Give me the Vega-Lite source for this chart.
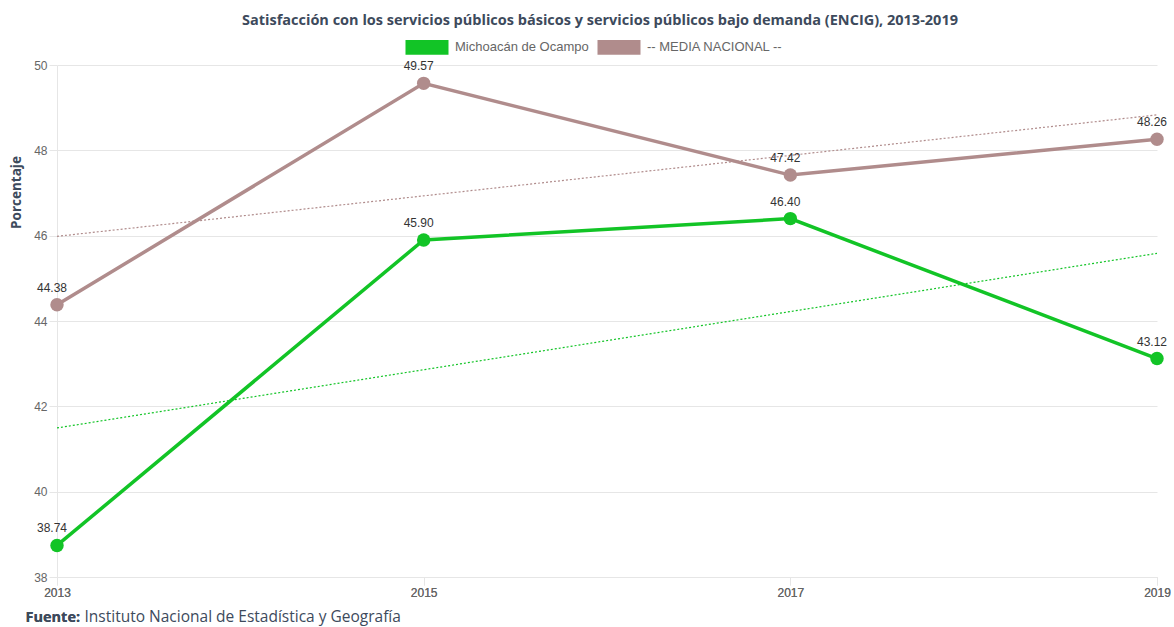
{
  "$schema": "https://vega.github.io/schema/vega-lite/v6.json",
  "width": 1100,
  "height": 512,
  "autosize": "none",
  "padding": {"left": 57, "top": 65, "right": 17, "bottom": 50},
  "background": "white",
  "title": {
    "text": "Satisfacción con los servicios públicos básicos y servicios públicos bajo demanda (ENCIG), 2013-2019",
    "font": "Open Sans",
    "fontSize": 14.5,
    "fontWeight": "bold",
    "color": "#3d4a5c",
    "anchor": "middle",
    "dx": -7,
    "offset": -3
  },
  "data": {
    "values": [
      {"anio": 2013, "serie": "Michoacán de Ocampo", "valor": 38.74},
      {"anio": 2015, "serie": "Michoacán de Ocampo", "valor": 45.90},
      {"anio": 2017, "serie": "Michoacán de Ocampo", "valor": 46.40},
      {"anio": 2019, "serie": "Michoacán de Ocampo", "valor": 43.12},
      {"anio": 2013, "serie": "-- MEDIA NACIONAL --", "valor": 44.38},
      {"anio": 2015, "serie": "-- MEDIA NACIONAL --", "valor": 49.57},
      {"anio": 2017, "serie": "-- MEDIA NACIONAL --", "valor": 47.42},
      {"anio": 2019, "serie": "-- MEDIA NACIONAL --", "valor": 48.26}
    ]
  },
  "encoding": {
    "x": {
      "field": "anio",
      "type": "quantitative",
      "scale": {"domain": [2013, 2019], "nice": false, "zero": false},
      "axis": {
        "values": [2013, 2015, 2017, 2019],
        "format": "d",
        "title": "Fuente:",
        "titleFont": "Open Sans",
        "titleFontSize": 14.5,
        "titleFontWeight": "bold",
        "titleColor": "#3d4a5c",
        "titleAnchor": "start",
        "titleAlign": "left",
        "titleBaseline": "alphabetic",
        "titleX": -32,
        "titleY": 44,
        "labelFont": "Liberation Sans",
        "labelFontSize": 12,
        "labelColor": "#666666",
        "labelPadding": 2,
        "tickColor": "#e6e6e6",
        "tickSize": 8,
        "domainColor": "#e6e6e6",
        "gridColor": "#e6e6e6",
        "labelFlush": false
      }
    },
    "y": {
      "field": "valor",
      "type": "quantitative",
      "scale": {"domain": [38, 50], "nice": false, "zero": false},
      "axis": {
        "values": [38, 40, 42, 44, 46, 48, 50],
        "title": "Porcentaje",
        "titleFont": "Open Sans",
        "titleFontSize": 13.5,
        "titleFontWeight": "bold",
        "titleColor": "#3d4a5c",
        "titleY": 127,
        "titleX": -34,
        "labelFont": "Liberation Sans",
        "labelFontSize": 12,
        "labelColor": "#666666",
        "labelPadding": 2,
        "tickColor": "#e6e6e6",
        "tickSize": 8,
        "domainColor": "#e6e6e6",
        "gridColor": "#e6e6e6"
      }
    },
    "color": {
      "field": "serie",
      "type": "nominal",
      "scale": {
        "domain": ["Michoacán de Ocampo", "-- MEDIA NACIONAL --"],
        "range": ["#12c426", "#b08c8c"]
      },
      "legend": {
        "title": null,
        "orient": "none",
        "direction": "horizontal",
        "legendX": 348,
        "legendY": -40,
        "symbolType": "M-1,-0.34L1,-0.34L1,0.34L-1,0.34Z",
        "symbolSize": 1850,
        "symbolStrokeWidth": 0,
        "symbolOpacity": 1,
        "labelFont": "Liberation Sans",
        "labelFontSize": 13,
        "labelColor": "#666666",
        "labelOffset": 6,
        "columnPadding": 8
      }
    }
  },
  "layer": [
    {
      "transform": [
        {"regression": "valor", "on": "anio", "groupby": ["serie"], "extent": [2013, 2019]}
      ],
      "mark": {"type": "line", "strokeWidth": 1.2, "strokeDash": [2, 2]},
      "encoding": {
        "x": {
          "field": "anio",
          "type": "quantitative",
          "axis": {
            "orient": "top",
            "labels": false,
            "ticks": false,
            "domain": false,
            "grid": false,
            "title": "Instituto Nacional de Estadística y Geografía",
            "titleFont": "Open Sans",
            "titleFontSize": 15.5,
            "titleFontWeight": "normal",
            "titleColor": "#3d4a5c",
            "titleAnchor": "start",
            "titleAlign": "left",
            "titleBaseline": "alphabetic",
            "titleX": 27,
            "titleY": 556
          }
        }
      }
    },
    {
      "mark": {"type": "line", "strokeWidth": 3.5, "point": {"filled": true, "size": 180, "opacity": 1}}
    },
    {
      "mark": {"type": "text", "dy": -17, "dx": -5, "font": "Liberation Sans", "fontSize": 12, "color": "#333333"},
      "encoding": {
        "text": {"field": "valor", "type": "quantitative", "format": ".2f"},
        "color": {"value": "#333333"}
      }
    }
  ],
  "resolve": {"axis": {"x": "independent"}},
  "config": {"view": {"stroke": null}}
}
